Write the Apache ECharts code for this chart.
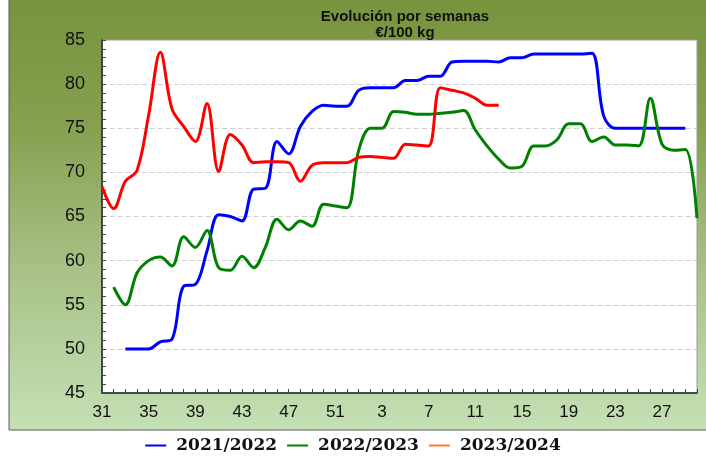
<!DOCTYPE html>
<html>
<head>
<meta charset="utf-8">
<script src="https://cdn.jsdelivr.net/npm/echarts@6/dist/echarts.min.js"></script>
<style>
  html, body { margin: 0; padding: 0; background: #fff; }
  #chart { width: 706px; height: 457px; }
</style>
</head>
<body>
<div id="chart"></div>
<script>
// weeks: 31..52 of the first year, then 1..30
const weeks = ['31','32','33','34','35','36','37','38','39','40','41','42','43','44','45','46','47','48','49','50','51','52',
  '1','2','3','4','5','6','7','8','9','10','11','12','13','14','15','16','17','18','19','20','21','22','23','24','25','26','27','28','29','30'];

const s2021 = [null, null, 50.0, 50.0, 50.0, 50.8, 51.1, 57.1, 57.3, 61.1, 65.2, 65.0, 64.5, 68.1, 68.2, 73.5, 72.1, 75.2, 76.9, 77.6, 77.5, 77.5,
  79.3, 79.6, 79.6, 79.6, 80.4, 80.4, 80.9, 80.9, 82.5, 82.6, 82.6, 82.6, 82.5, 83.0, 83.0, 83.4, 83.4, 83.4, 83.4, 83.4, 83.5, 76.4, 75.0, 75.0, 75.0, 75.0, 75.0, 75.0, 75.0, null];

const s2022 = [null, 57.0, 55.0, 58.6, 60.0, 60.4, 59.4, 62.7, 61.5, 63.4, 59.2, 58.9, 60.5, 59.2, 61.5, 64.7, 63.5, 64.5, 63.9, 66.4, 66.2, 66.0,
  72.5, 75.0, 75.0, 76.9, 76.8, 76.6, 76.6, 76.7, 76.8, 77.0, 74.8, 73.0, 71.5, 70.5, 70.7, 73.0, 73.0, 73.7, 75.5, 75.5, 73.5, 74.0, 73.1, 73.1, 73.0, 78.4, 73.2, 72.5, 72.6, 64.8];

const s2023 = [68.4, 65.9, 69.0, 70.2, 76.5, 83.6, 77.2, 75.2, 73.5, 77.8, 70.1, 74.3, 73.1, 71.1, 71.2, 71.2, 71.1, 69.0, 70.8, 71.1, 71.1, 71.1,
  71.7, 71.8, 71.7, 71.6, 73.2, 73.1, 73.0, 79.6, 79.3, 79.0, 78.4, 77.6, 77.6];

const seriesNames = ['2021/2022', '2022/2023', '2023/2024'];
const lineColors = ['#0000ff', '#008000', '#ff0000'];
const legendColors = ['#0000ff', '#008000', '#ff7f27'];
const seriesData = [s2021, s2022, s2023];

const chart = echarts.init(document.getElementById('chart'));

const option = {
  backgroundColor: '#ffffff',
  animation: false,
  graphic: [{
    type: 'rect',
    z: -10,
    silent: true,
    shape: { x: 9, y: -5, width: 710, height: 435 },
    style: {
      fill: new echarts.graphic.LinearGradient(0, 0, 0, 1, [
        { offset: 0, color: '#77933c' },
        { offset: 0.3, color: '#86a04f' },
        { offset: 0.65, color: '#a9c38a' },
        { offset: 1, color: '#c5e0b4' }
      ]),
      stroke: '#5a5a5a',
      lineWidth: 1
    }
  }],
  title: {
    text: 'Evolución por semanas\n€/100 kg',
    left: 400,
    textAlign: 'center',
    top: 4,
    textStyle: {
      fontFamily: 'Liberation Sans',
      fontWeight: 'bold',
      fontSize: 15,
      lineHeight: 16,
      color: '#111'
    }
  },
  legend: {
    data: seriesNames.map((n, i) => ({ name: n, itemStyle: { color: legendColors[i] } })),
    left: 'center',
    top: 432,
    icon: 'rect',
    itemWidth: 21,
    itemHeight: 2,
    itemGap: 10,
    textStyle: {
      fontFamily: 'DejaVu Serif',
      fontWeight: 'bold',
      fontSize: 17,
      color: '#111',
      padding: [0, 0, 0, 5]
    }
  },
  grid: {
    left: 102,
    right: 9,
    top: 40,
    bottom: 64,
    show: true,
    backgroundColor: '#ffffff',
    borderColor: '#9a9a9a',
    borderWidth: 1
  },
  xAxis: {
    type: 'category',
    data: weeks,
    boundaryGap: false,
    axisLine: { lineStyle: { color: '#222', width: 1.5 } },
    axisTick: { inside: true, length: 4, interval: 0, lineStyle: { color: '#444' } },
    axisLabel: {
      interval: 3,
      margin: 11,
      fontFamily: 'Liberation Sans',
      fontSize: 17,
      color: '#111'
    },
    splitLine: { show: false }
  },
  yAxis: {
    type: 'value',
    min: 45,
    max: 85,
    interval: 5,
    axisLine: { show: true, lineStyle: { color: '#222', width: 1.5 } },
    axisTick: { show: true, inside: true, length: 4, lineStyle: { color: '#444' } },
    minorTick: { show: true, splitNumber: 5, length: 4, lineStyle: { color: '#444' } },
    axisLabel: {
      margin: 17,
      fontFamily: 'Liberation Sans',
      fontSize: 18,
      color: '#111'
    },
    splitLine: {
      show: true,
      showMinLine: false,
      showMaxLine: false,
      lineStyle: { color: '#cfcfcf', type: [5, 3] }
    }
  },
  series: seriesNames.map((n, i) => ({
    name: n,
    type: 'line',
    data: seriesData[i],
    smooth: 0.35,
    showSymbol: false,
    connectNulls: false,
    lineStyle: { color: lineColors[i], width: 3 },
    itemStyle: { color: lineColors[i] }
  }))
};

chart.setOption(option);
</script>
</body>
</html>
